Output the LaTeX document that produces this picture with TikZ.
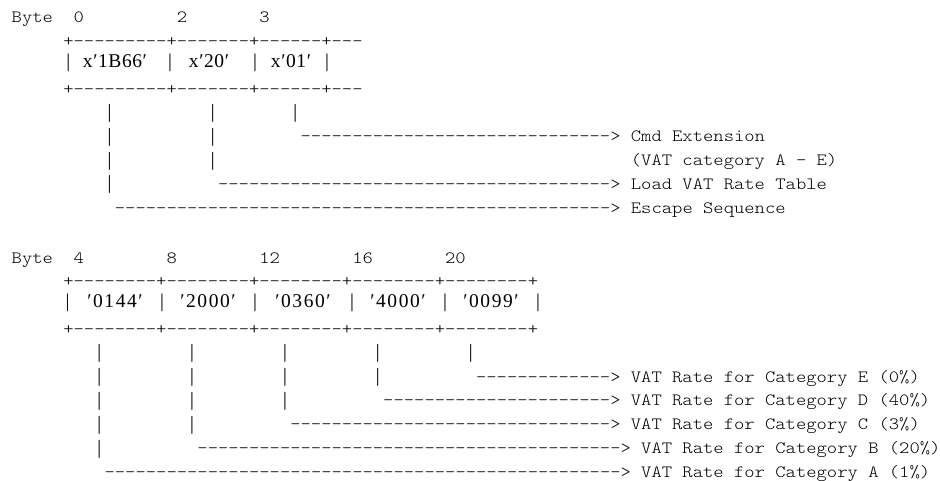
\documentclass[tikz,border=0pt]{standalone}
\usepackage{fontspec}
\newfontfamily\monof[FakeStretch=1.143]{lmmonolt10-regular.otf}
\newfontfamily\cellf[LetterSpace=8]{Liberation Serif}
\newfontfamily\cellg[LetterSpace=3]{Liberation Serif}
\begin{document}
\begin{tikzpicture}[x=1pt,y=-1pt,
  mt/.style={font=\monof\fontsize{17.2}{17.2}\selectfont, inner sep=0pt, anchor=base west, text=black},
  vb/.style={font=\monof\fontsize{17.2}{17.2}\selectfont, inner sep=0pt, anchor=center, text=black},
  ct/.style={font=\cellf\fontsize{19.5}{19.5}\selectfont, inner sep=0pt, anchor=base, text=black},
  ctt/.style={font=\cellg\fontsize{19.5}{19.5}\selectfont, inner sep=0pt, anchor=base, text=black},
  cb/.style={font=\cellf\fontsize{19.5}{19.5}\selectfont, inner sep=0pt, anchor=base, text=black}]
\def\cx#1{11.5+10.32*(#1)}
\def\tb#1{141.7+23.8*((#1)-5)}
\def\bb#1{429.7+23.8*((#1)-7)}
\def\tm#1{137.2+23.8*((#1)-5)}
\def\bm#1{425.2+23.8*((#1)-7)}
\def\vbar{\scalebox{1}[1.35]{|}}
\useasboundingbox (0,0) rectangle (940,480);
% ---------- top block ----------
\node[mt] (tbyte) at ({\cx{0}},{\tb{0}}) {Byte};
\node[mt] (tn0) at ({\cx{6}},{\tb{0}}) {0};
\node[mt] (tn2) at ({\cx{16}},{\tb{0}}) {2};
\node[mt] (tn3) at ({\cx{24}},{\tb{0}}) {3};
\node[mt] (tbord1) at ({\cx{5}},{\tb{1}}) {+---------+-------+------+---};
\node[cb] (tcb0) at (68.3,67) {|};
\node[ctt] (tc1) at (115,67) {x′1B66′};
\node[cb] (tcb1) at (170,67) {|};
\node[ctt] (tc2) at (209,67) {x′20′};
\node[cb] (tcb2) at (255,67) {|};
\node[ctt] (tc3) at (291,67) {x′01′};
\node[cb] (tcb3) at (327,67) {|};
\node[mt] (tbord2) at ({\cx{5}},{\tb{3}}) {+---------+-------+------+---};
\foreach \c/\r in {9/4,19/4,27/4,9/5,19/5,9/6,19/6,9/7}
  \node[vb] (tbar\c-\r) at ({\cx{\c}+5.16},{\tm{\r}}) {\vbar};
\node[mt] (tar1) at ({\cx{28}},{\tb{5}}) {------------------------------>};
\node[mt] (tl1) at ({\cx{60}},{\tb{5}}) {Cmd Extension};
\node[mt] (tl1b) at ({\cx{60}},{\tb{6}}) {(VAT category A - E)};
\node[mt] (tar2) at ({\cx{20}},{\tb{7}}) {-------------------------------------->};
\node[mt] (tl2) at ({\cx{60}},{\tb{7}}) {Load VAT Rate Table};
\node[mt] (tar3) at ({\cx{10}},{\tb{8}}) {------------------------------------------------>};
\node[mt] (tl3) at ({\cx{60}},{\tb{8}}) {Escape Sequence};
% ---------- bottom block ----------
\node[mt] (bbyte) at ({\cx{0}},{\bb{0}}) {Byte};
\node[mt] (bn4) at ({\cx{6}},{\bb{0}}) {4};
\node[mt] (bn8) at ({\cx{15}},{\bb{0}}) {8};
\node[mt] (bn12) at ({\cx{24}},{\bb{0}}) {12};
\node[mt] (bn16) at ({\cx{33}},{\bb{0}}) {16};
\node[mt] (bn20) at ({\cx{42}},{\bb{0}}) {20};
\node[mt] (bbord1) at ({\cx{5}},{\bb{1}}) {+--------+--------+--------+--------+--------+};
\node[cb] (bcb0) at (67.5,307) {|};
\node[ct] (bc1) at (115,307) {′0144′};
\node[cb] (bcb1) at (162,307) {|};
\node[ct] (bc2) at (208,307) {′2000′};
\node[cb] (bcb2) at (255,307) {|};
\node[ct] (bc3) at (303,307) {′0360′};
\node[cb] (bcb3) at (352,307) {|};
\node[ct] (bc4) at (398,307) {′4000′};
\node[cb] (bcb4) at (445,307) {|};
\node[ct] (bc5) at (491,307) {′0099′};
\node[cb] (bcb5) at (538,307) {|};
\node[mt] (bbord2) at ({\cx{5}},{\bb{3}}) {+--------+--------+--------+--------+--------+};
\foreach \c/\n in {44/4,35/5,26/6,17/7,8/8}
  \foreach \r in {4,...,\n}
    \node[vb] (bbar\c-\r) at ({\cx{\c}+5.16},{\bm{\r}}) {\vbar};
\node[mt] (bar1) at ({\cx{45}},{\bb{5}}) {------------->};
\node[mt] (bl1) at ({\cx{60}},{\bb{5}}) {VAT Rate for Category E (0\%)};
\node[mt] (bar2) at ({\cx{36}},{\bb{6}}) {---------------------->};
\node[mt] (bl2) at ({\cx{60}},{\bb{6}}) {VAT Rate for Category D (40\%)};
\node[mt] (bar3) at ({\cx{27}},{\bb{7}}) {------------------------------->};
\node[mt] (bl3) at ({\cx{60}},{\bb{7}}) {VAT Rate for Category C (3\%)};
\node[mt] (bar4) at ({\cx{18}},{\bb{8}}) {----------------------------------------->};
\node[mt] (bl4) at ({\cx{61}},{\bb{8}}) {VAT Rate for Category B (20\%)};
\node[mt] (bar5) at ({\cx{9}},{\bb{9}}) {-------------------------------------------------->};
\node[mt] (bl5) at ({\cx{61}},{\bb{9}}) {VAT Rate for Category A (1\%)};
\end{tikzpicture}
\end{document}
